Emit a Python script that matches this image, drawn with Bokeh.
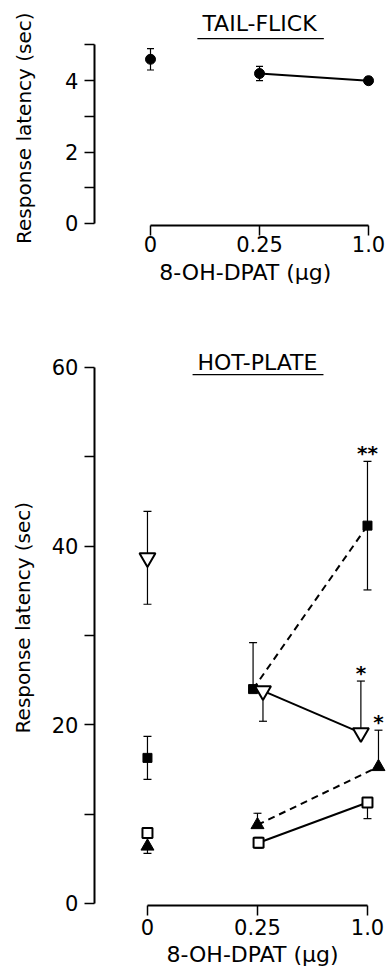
import math
from bokeh.plotting import figure
from bokeh.layouts import column
from bokeh.models import FixedTicker
from bokeh.core.properties import value
from bokeh.embed import file_html
from bokeh.resources import INLINE

# ---------------- data ----------------
doses = ["0", "0.25", "1.0"]

tail_mean = [4.6, 4.2, 4.0]
tail_err = [0.3, 0.2, 0.1]

sqf_mean = [16.3, 24.0, 42.3]   # filled square
sqf_err = [2.4, 5.2, 7.2]
trio_mean = [38.7, 23.8, 19.1]  # open inverted triangle
trio_err = [5.2, 3.4, 5.8]
trif_mean = [6.4, 8.8, 15.3]    # filled triangle
trif_err = [0.8, 1.3, 4.1]
sqo_mean = [7.9, 6.8, 11.3]     # open square
sqo_err = [0.6, 0.6, 1.8]

FONT = "DejaVu Sans"
XLABEL = "8-OH-DPAT (\u00b5g)"
YLABEL = "Response latency (sec)"
xs = list(range(len(doses)))


def style(p, yticks, ylabels, ybounds, xloc, yloc, tick_so):
    p.outline_line_color = None
    p.grid.visible = False
    p.background_fill_color = None
    p.border_fill_color = None
    for ax in (p.xaxis[0], p.yaxis[0]):
        ax.axis_line_width = 2
        ax.major_tick_line_width = 1.5
        ax.minor_tick_line_color = None
        ax.major_tick_in = 0
        ax.major_tick_out = 10
        ax.major_label_text_font = FONT
        ax.major_label_text_font_size = "21px"
        ax.major_label_text_color = "black"
    p.xaxis.ticker = FixedTicker(ticks=xs)
    p.xaxis.major_label_overrides = {i: d for i, d in enumerate(doses)}
    p.xaxis.bounds = (0, len(doses) - 1)
    p.xaxis.fixed_location = xloc
    p.xaxis.major_label_standoff = tick_so
    p.yaxis.ticker = FixedTicker(ticks=yticks)
    p.yaxis.major_label_overrides = {t: (str(t) if t in ylabels else "") for t in yticks}
    p.yaxis.bounds = ybounds
    p.yaxis.fixed_location = yloc
    p.yaxis.major_label_standoff = 6


def labels(p, xl, yl):
    p.text(x=[xl[0]], y=[xl[1]], text=[XLABEL], text_font=value(FONT), text_font_size="22px",
           text_align="center", text_baseline="middle", text_color="black")
    p.text(x=[yl[0]], y=[yl[1]], text=[YLABEL], text_font=value(FONT), text_font_size="20px",
           text_align="center", text_baseline="middle", text_color="black", angle=math.pi / 2)


def errbars(p, x, m, e, dirs, cap=8):
    x0, y0, y1, cx, cy = [], [], [], [], []
    for xi, mi, ei, d in zip(x, m, e, dirs):
        lo = mi - ei if d in ("both", "down") else mi
        hi = mi + ei if d in ("both", "up") else mi
        x0.append(xi); y0.append(lo); y1.append(hi)
        if d in ("both", "down"):
            cx.append(xi); cy.append(lo)
        if d in ("both", "up"):
            cx.append(xi); cy.append(hi)
    p.segment(x0=x0, y0=y0, x1=x0, y1=y1, line_color="black", line_width=1.2)
    p.scatter(cx, cy, marker="dash", size=cap, line_color="black", line_width=1.2)


def title(p, txt, x, y, u0, u1, uy):
    p.text(x=[x], y=[y], text=[txt], text_font=value(FONT), text_font_size="22px",
           text_align="center", text_baseline="middle", text_color="black")
    p.line([u0, u1], [uy, uy], line_color="black", line_width=1.2)


def fig(h, xr, yr):
    return figure(width=387, height=h, output_backend="svg", toolbar_location=None,
                  x_range=xr, y_range=yr, min_border_left=0, min_border_right=0,
                  min_border_top=0, min_border_bottom=0)


# ---------------- top panel ----------------
top = fig(300, (-1.376, 2.174), (-2.157, 6.246))
style(top, [0, 1, 2, 3, 4, 5], [0, 2, 4], (0, 5), -0.056, -0.514, 1)
labels(top, (0.87, -1.37), (-1.165, 2.67))
errbars(top, xs, tail_mean, tail_err, ["both", "both", "both"], cap=7)
top.line(xs[1:], tail_mean[1:], line_color="black", line_width=2)
top.scatter(xs, tail_mean, marker="circle", size=10, fill_color="black", line_color="black")
title(top, "TAIL-FLICK", 1.0, 5.6, 0.43, 1.59, 5.18)

# ---------------- bottom panel ----------------
bot = fig(671, (-1.336, 2.182), (-7.612, 67.50))
style(bot, [0, 10, 20, 30, 40, 50, 60], [0, 20, 40, 60], (0, 60), -0.224, -0.482, 3)
labels(bot, (0.955, -5.71), (-1.127, 32.0))

dodge = {
    "sqf": [0, -0.04, 0],
    "trio": [0, 0.05, -0.06],
    "trif": [0, 0, 0.1],
    "sqo": [0, 0.01, 0],
}
x_sqf = [a + b for a, b in zip(xs, dodge["sqf"])]
x_trio = [a + b for a, b in zip(xs, dodge["trio"])]
x_trif = [a + b for a, b in zip(xs, dodge["trif"])]
x_sqo = [a + b for a, b in zip(xs, dodge["sqo"])]

errbars(bot, x_sqf, sqf_mean, sqf_err, ["both", "up", "both"])
errbars(bot, x_trio, trio_mean, trio_err, ["both", "down", "up"])
errbars(bot, x_trif, trif_mean, trif_err, ["down", "up", "up"])
errbars(bot, x_sqo, sqo_mean, sqo_err, ["up", "both", "down"])

bot.line(x_sqf[1:], sqf_mean[1:], line_color="black", line_width=2, line_dash="7 5")
bot.line(x_trio[1:], trio_mean[1:], line_color="black", line_width=2)
bot.line(x_trif[1:], trif_mean[1:], line_color="black", line_width=2, line_dash="7 5")
bot.line(x_sqo[1:], sqo_mean[1:], line_color="black", line_width=2)

bot.scatter(x_sqf, sqf_mean, marker="square", size=9, fill_color="black", line_color="black")
bot.scatter(x_trio, trio_mean, marker="inverted_triangle", size=16, fill_color="white",
            line_color="black", line_width=2)
bot.scatter(x_trif, trif_mean, marker="triangle", size=13, fill_color="black", line_color="black")
bot.scatter(x_sqo, sqo_mean, marker="square", size=10, fill_color="white",
            line_color="black", line_width=2)

# significance marks
sig_x = [x_sqf[2], x_trio[2], x_trif[2]]
sig_y = [sqf_mean[2] + sqf_err[2], trio_mean[2] + trio_err[2], trif_mean[2] + trif_err[2]]
sig_t = ["**", "*", "*"]
bot.text(x=sig_x, y=sig_y, text=sig_t, text_font=value(FONT), text_font_size="20px",
         text_font_style="bold", text_align="center", text_baseline="bottom",
         y_offset=4, text_color="black")

title(bot, "HOT-PLATE", 1.0, 60.56, 0.41, 1.6, 59.2)

layout = column(top, bot, spacing=0)
open("out.html", "w").write(file_html(layout, INLINE))
